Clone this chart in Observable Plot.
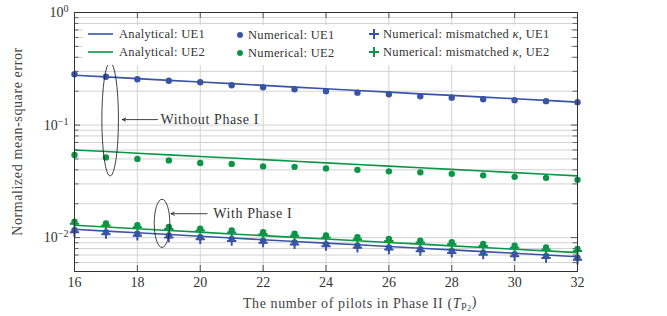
<!DOCTYPE html>
<html><head><meta charset="utf-8">
<script src="https://cdn.jsdelivr.net/npm/d3@7"></script>
<script src="https://cdn.jsdelivr.net/npm/@observablehq/plot@0.6"></script>
<style>
body{margin:0;background:#fff;}
#chart{width:667px;height:316px;}
</style></head><body><div id="chart"></div>
<script>
// ---- data ----
const pilots = [16,17,18,19,20,21,22,23,24,25,26,27,28,29,30,31,32];
// Without Phase I
const ue1AnalyticalNo = [0.2773,0.2677,0.2584,0.2495,0.2414,0.2332,0.2253,0.2174,0.2102,0.2029,0.1963,0.1894,0.1834,0.1771,0.1715,0.1656,0.1598];
const ue1NumericalNo  = [0.2827,0.2686,0.2554,0.2476,0.2402,0.2259,0.2169,0.2083,0.2000,0.1940,0.1880,0.1805,0.1751,0.1698,0.1664,0.1631,0.1598];
const ue2AnalyticalNo = [0.0601,0.05815,0.05623,0.05436,0.05262,0.05094,0.04926,0.04763,0.04611,0.04463,0.04315,0.04173,0.04039,0.03909,0.03780,0.03655,0.03537];
const ue2NumericalNo  = [0.05427,0.05159,0.05003,0.04852,0.04611,0.04518,0.04294,0.04251,0.04121,0.03998,0.03878,0.03800,0.03684,0.03573,0.03465,0.03396,0.03261];
// With Phase I
const ue1AnalyticalWith = [0.01186,0.01143,0.01104,0.01065,0.01029,0.00991,0.00958,0.00925,0.00894,0.00863,0.00834,0.00805,0.00778,0.00751,0.00726,0.00701,0.00677];
const ue1NumericalWith  = [0.01162,0.01120,0.01082,0.01044,0.01008,0.00971,0.00939,0.00907,0.00876,0.00846,0.00817,0.00789,0.00762,0.00736,0.00711,0.00687,0.00663];
const ue1MismatchWith   = [0.01115,0.01074,0.01038,0.01001,0.00967,0.00932,0.00901,0.00870,0.00840,0.00811,0.00784,0.00757,0.00731,0.00706,0.00682,0.00659,0.00636];
const ue2AnalyticalWith = [0.01288,0.01242,0.01200,0.01157,0.01118,0.01077,0.01041,0.01005,0.00971,0.00937,0.00906,0.00875,0.00845,0.00816,0.00789,0.00762,0.00736];
const ue2NumericalWith  = [0.01385,0.01335,0.01290,0.01244,0.01202,0.01158,0.01119,0.01081,0.01044,0.01008,0.009738,0.009408,0.009087,0.008778,0.008480,0.008191,0.007911];
const ue2MismatchWith   = [0.01330,0.01282,0.01238,0.01194,0.01154,0.01112,0.01074,0.01038,0.01002,0.00968,0.00935,0.00903,0.00872,0.00843,0.00814,0.00786,0.00759];

const xTicks = [16,18,20,22,24,26,28,30,32];
const yMajor = [0.01,0.1,1];
const yMinor = [0.005,0.006,0.007,0.008,0.009,0.02,0.03,0.04,0.05,0.06,0.07,0.08,0.09,0.2,0.3,0.4,0.5,0.6,0.7,0.8,0.9];

const legendRow1 = ["Analytical: UE1","Numerical: UE1","Numerical: mismatched κ, UE1"];
const legendRow2 = ["Analytical: UE2","Numerical: UE2","Numerical: mismatched κ, UE2"];

const ellipses = [{x:17.15, top:0.356, bottom:0.0349, halfWidth:0.264},{x:18.8, top:0.02169, bottom:0.0081, halfWidth:0.248}];
const arrows = [{x1:18.64, x2:17.52, y:0.1118},{x1:20.22, x2:19.07, y:0.01631}];
const notes = [{x:18.7, y:0.1118, text:"Without Phase I"},{x:20.38, y:0.01631, text:"With Phase I"}];

// ---- layout ----
const W=667, H=316, mL=74, mR=90, mT=12, mB=45;
const plotH = H-mT-mB, plotW = W-mL-mR;
const blue="#3a54a5", green="#0c9547", ink="#333";
const FONT="'Liberation Serif', 'DejaVu Serif', serif";
const rows = ys => pilots.map((p,i)=>({x:p,y:ys[i]}));

const plot = Plot.plot({
  width:W, height:H, marginLeft:mL, marginRight:mR, marginTop:mT, marginBottom:mB,
  style:{fontFamily:FONT, fontSize:"14px", color:ink, background:"#fff"},
  x:{domain:[16,32]},
  y:{type:"log", domain:[0.005,1]},
  marks:[
    Plot.ruleY([...yMinor,...yMajor], {stroke:"#cdcdcd", strokeWidth:0.9}),
    Plot.ruleX(xTicks, {stroke:"#cdcdcd", strokeWidth:0.9}),
    Plot.axisX({ticks:xTicks, tickSize:0, tickPadding:6, label:null, fontSize:14}),
    Plot.axisY({ticks:yMajor, tickSize:0, tickPadding:6, label:null, fontSize:14,
      tickFormat:d=>"10^"+Math.round(Math.log10(d))}),
    // inner ticks
    Plot.tickX(xTicks, {x:d=>d, stroke:"#555", insetTop:plotH-6}),
    Plot.tickX(xTicks, {x:d=>d, stroke:"#555", insetBottom:plotH-6}),
    Plot.tickY(yMajor, {y:d=>d, stroke:"#555", insetRight:plotW-6}),
    Plot.tickY(yMajor, {y:d=>d, stroke:"#555", insetLeft:plotW-6}),
    Plot.tickY(yMinor, {y:d=>d, stroke:"#666", insetRight:plotW-4.5}),
    Plot.tickY(yMinor, {y:d=>d, stroke:"#666", insetLeft:plotW-4.5}),
    // blue series
    Plot.line(rows(ue1AnalyticalNo), {x:"x", y:"y", stroke:blue, strokeWidth:1.6}),
    Plot.line(rows(ue1AnalyticalWith), {x:"x", y:"y", stroke:blue, strokeWidth:1.6}),
    Plot.dot(rows(ue1NumericalNo), {x:"x", y:"y", r:3.2, fill:blue}),
    Plot.dot(rows(ue1NumericalWith), {x:"x", y:"y", r:3.2, fill:blue}),
    Plot.dot(rows(ue1MismatchWith), {x:"x", y:"y", symbol:"plus", r:3.1, stroke:blue, strokeWidth:2}),
    // green series
    Plot.line(rows(ue2AnalyticalNo), {x:"x", y:"y", stroke:green, strokeWidth:1.6}),
    Plot.line(rows(ue2AnalyticalWith), {x:"x", y:"y", stroke:green, strokeWidth:1.6}),
    Plot.dot(rows(ue2NumericalNo), {x:"x", y:"y", r:3.2, fill:green}),
    Plot.dot(rows(ue2MismatchWith), {x:"x", y:"y", symbol:"plus", r:3.1, stroke:green, strokeWidth:2}),
    Plot.dot(rows(ue2NumericalWith), {x:"x", y:"y", r:3.2, fill:green}),
    // annotations
    Plot.arrow(arrows, {x1:"x1", x2:"x2", y1:"y", y2:"y", stroke:"#111", strokeWidth:0.8, headLength:7, headAngle:50}),
    Plot.text(notes, {x:"x", y:"y", text:"text", textAnchor:"start", dx:1, fill:ink, fontSize:14}),
    Plot.frame({stroke:"#333", strokeWidth:1})
  ]
});
document.getElementById("chart").appendChild(plot);

const svg = d3.select(plot);
svg.selectAll('g[aria-label="text"] text').attr("letter-spacing","0.6px");
const sx = plot.scale("x"), sy = plot.scale("y");
// superscript tick labels
svg.selectAll('g[aria-label="y-axis tick label"] text').each(function(){
  const t = this.textContent; const e = t.split("^")[1];
  const sel = d3.select(this); sel.text("10");
  sel.append("tspan").attr("dy","-0.5em").attr("font-size","0.72em").text(e.replace("-","\u2212"));
});
// ellipses
ellipses.forEach(e=>{
  const cy1 = sy.apply(e.top), cy2 = sy.apply(e.bottom);
  svg.append("ellipse").attr("cx", sx.apply(e.x)).attr("cy",(cy1+cy2)/2)
    .attr("rx", sx.apply(e.x+e.halfWidth)-sx.apply(e.x)).attr("ry",(cy2-cy1)/2)
    .attr("fill","none").attr("stroke","#111").attr("stroke-width",0.8);
});
// legend
const lg = svg.append("g").attr("font-family",FONT).attr("font-size","12.5px").attr("fill",ink)
  .attr("text-anchor","start").attr("letter-spacing","0.3px");
lg.append("rect").attr("x",83).attr("y",25).attr("width",487).attr("height",40).attr("fill","#fff");
const rowsY = [34,52], colors=[blue,green];
[legendRow1,legendRow2].forEach((row,ri)=>{
  const y = rowsY[ri], c = colors[ri];
  lg.append("line").attr("x1",88).attr("x2",113).attr("y1",y).attr("y2",y).attr("stroke",c).attr("stroke-width",1.6);
  lg.append("text").attr("x",119).attr("y",y).attr("dy","0.35em").text(row[0]);
  lg.append("circle").attr("cx",240).attr("cy",y+1).attr("r",3).attr("fill",c);
  lg.append("text").attr("x",248).attr("y",y+1).attr("dy","0.35em").text(row[1]);
  lg.append("path").attr("d",`M${369},${y}h10M${374},${y-5}v10`).attr("stroke",c).attr("stroke-width",2);
  const t = lg.append("text").attr("x",383).attr("y",y).attr("dy","0.35em");
  const parts = row[2].split("κ");
  t.append("tspan").text(parts[0]);
  t.append("tspan").attr("font-style","italic").text("κ");
  t.append("tspan").text(parts[1]);
});
// axis labels
svg.append("text").attr("transform",`translate(17,${mT+plotH/2}) rotate(-90)`).attr("text-anchor","middle")
  .attr("dy","0.35em").attr("font-family",FONT).attr("font-size","14px").attr("letter-spacing","0.6px")
  .attr("fill","#444").text("Normalized mean-square error");
const xl = svg.append("text").attr("x",360).attr("y",303).attr("text-anchor","middle").attr("dy","0.35em")
  .attr("font-family",FONT).attr("font-size","14px").attr("letter-spacing","0.6px").attr("fill","#444");
xl.append("tspan").text("The number of pilots in Phase II (");
xl.append("tspan").attr("font-style","italic").text("T");
xl.append("tspan").attr("font-size","0.72em").attr("dy","0.22em").text("P");
xl.append("tspan").attr("font-size","0.55em").attr("dy","0.15em").text("2");
xl.append("tspan").attr("dy","-0.35em").text(")");
</script></body></html>
